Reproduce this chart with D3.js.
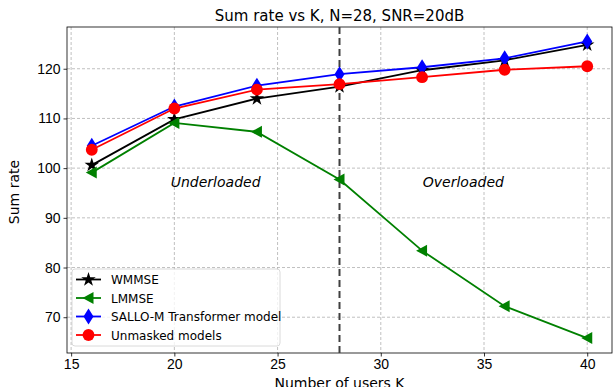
<!DOCTYPE html>
<html lang="en">
<head>
<meta charset="UTF-8">
<title>Sum rate vs K</title>
<script src="https://d3js.org/d3.v7.min.js"></script>
<style>
  body { margin: 0; background: #fff; }
  svg { font-family: "DejaVu Sans", sans-serif; }
</style>
</head>
<body>
<div id="chart"></div>
<script>
const users = [16, 20, 24, 28, 32, 36, 40];
const wmmse = [100.6, 109.8, 114.0, 116.4, 119.7, 121.7, 124.8];
const lmmse = [99.1, 109.1, 107.3, 97.7, 83.4, 72.2, 65.8];
const sallo = [104.5, 112.4, 116.6, 118.9, 120.3, 122.1, 125.5];
const unmasked = [103.7, 112.0, 115.8, 116.9, 118.3, 119.8, 120.5];
const xTicks = [15, 20, 25, 30, 35, 40];
const yTicks = [70, 80, 90, 100, 110, 120];

const series = [
  { name: "WMMSE", values: wmmse, color: "black", marker: "star" },
  { name: "LMMSE", values: lmmse, color: "green", marker: "triangle" },
  { name: "SALLO-M Transformer model", values: sallo, color: "blue", marker: "diamond" },
  { name: "Unmasked models", values: unmasked, color: "red", marker: "circle" }
];

const W = 613, H = 387;
const margin = { top: 27, right: 1, bottom: 34, left: 67 };
const width = W - margin.left - margin.right;
const height = H - margin.top - margin.bottom;

const svg = d3.select("#chart").append("svg")
  .attr("width", W).attr("height", H);

const g = svg.append("g")
  .attr("transform", `translate(${margin.left},${margin.top})`);

const x = d3.scaleLinear().domain([14.8, 41.2]).range([0, width]);
const y = d3.scaleLinear().domain([62.8, 128.4]).range([height, 0]);

// grid
g.append("g").selectAll("line").data(xTicks).enter().append("line")
  .attr("x1", d => x(d)).attr("x2", d => x(d))
  .attr("y1", 0).attr("y2", height)
  .attr("stroke", "#b0b0b0").attr("stroke-width", 0.8).attr("stroke-dasharray", "3,2");
g.append("g").selectAll("line").data(yTicks).enter().append("line")
  .attr("y1", d => y(d)).attr("y2", d => y(d))
  .attr("x1", 0).attr("x2", width)
  .attr("stroke", "#b0b0b0").attr("stroke-width", 0.8).attr("stroke-dasharray", "3,2");

// axes
const xAxis = g.append("g")
  .attr("transform", `translate(0,${height})`)
  .call(d3.axisBottom(x).tickValues(xTicks).tickSize(3.5).tickPadding(3));
const yAxis = g.append("g")
  .call(d3.axisLeft(y).tickValues(yTicks).tickSize(3.5).tickPadding(3));
[xAxis, yAxis].forEach(a => {
  a.select(".domain").remove();
  a.selectAll("text").attr("font-size", 14).attr("fill", "#000");
  a.selectAll("line").attr("stroke", "#000").attr("stroke-width", 0.8);
});

g.append("rect")
  .attr("width", width).attr("height", height)
  .attr("fill", "none").attr("stroke", "#000").attr("stroke-width", 0.8);

// K = N line
g.append("line")
  .attr("x1", x(28)).attr("x2", x(28))
  .attr("y1", 0).attr("y2", height)
  .attr("stroke", "#404040").attr("stroke-width", 2).attr("stroke-dasharray", "7,4");

// region labels
g.append("text").attr("x", x(22)).attr("y", y(96.3))
  .attr("text-anchor", "middle").attr("font-size", 14).attr("font-style", "italic")
  .text("Underloaded");
g.append("text").attr("x", x(34)).attr("y", y(96.3))
  .attr("text-anchor", "middle").attr("font-size", 14).attr("font-style", "italic")
  .text("Overloaded");

function markerPath(type) {
  if (type === "star") return d3.symbol(d3.symbolStar, 65)();
  if (type === "circle") return d3.symbol(d3.symbolCircle, 110)();
  if (type === "diamond") return "M0,-8L5,0L0,8L-5,0Z";
  if (type === "triangle") return "M-6,0L5,-6L5,6Z";
}

const line = d3.line().x((d, i) => x(users[i])).y(d => y(d));

series.forEach(s => {
  g.append("path").datum(s.values)
    .attr("fill", "none").attr("stroke", s.color).attr("stroke-width", 1.8)
    .attr("d", line);
  g.append("g").selectAll("path").data(s.values).enter().append("path")
    .attr("transform", (d, i) => `translate(${x(users[i])},${y(d)})`)
    .attr("d", markerPath(s.marker))
    .attr("fill", s.color);
});

// title and labels
svg.append("text").attr("x", margin.left + width / 2).attr("y", 21)
  .attr("text-anchor", "middle").attr("font-size", 15)
  .text("Sum rate vs K, N=28, SNR=20dB");
svg.append("text").attr("x", margin.left + width / 2).attr("y", 388)
  .attr("text-anchor", "middle").attr("font-size", 14)
  .text("Number of users K");
svg.append("text")
  .attr("transform", `translate(19,${margin.top + height / 2 + 2}) rotate(-90)`)
  .attr("text-anchor", "middle").attr("font-size", 14)
  .text("Sum rate");

// legend
const legend = g.append("g").attr("transform", "translate(5,242)");
legend.append("rect")
  .attr("width", 208).attr("height", 77).attr("rx", 3)
  .attr("fill", "#fff").attr("fill-opacity", 0.8)
  .attr("stroke", "#d0d0d0").attr("stroke-width", 0.8);
series.forEach((s, i) => {
  const row = legend.append("g").attr("transform", `translate(4,${10.5 + i * 18.5})`);
  row.append("line").attr("x1", 0).attr("x2", 25)
    .attr("stroke", s.color).attr("stroke-width", 1.8);
  row.append("path").attr("transform", "translate(12.5,0)")
    .attr("d", markerPath(s.marker)).attr("fill", s.color);
  row.append("text").attr("x", 35).attr("y", 4.5)
    .attr("font-size", 12).text(s.name);
});
</script>
</body>
</html>
